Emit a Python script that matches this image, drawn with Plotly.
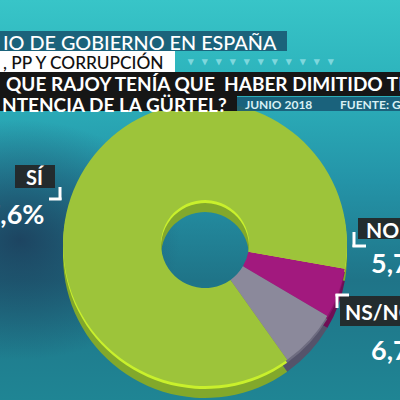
import plotly.graph_objects as go

# ---- data ----
categories = ["NO", "NS/NC", "SÍ"]
values = [5.7, 6.7, 87.6]
value_labels = ["5,7%", "6,7%", "87,6%"]
face_colors = ["#a2197e", "#8b899b", "#9dc43a"]
rim_colors = ["#8a1469", "#6e6c80", "#c9f02c"]
side_colors = ["#6f0f55", "#55536a", "#82a82b"]

title_1 = "IO DE GOBIERNO EN ESPAÑA"
title_2 = ", PP Y CORRUPCIÓN"
question_1 = "QUE RAJOY TENÍA QUE\u00a0 HABER DIMITIDO TRAS"
question_2 = "NTENCIA DE LA GÜRTEL?"
date_txt = "JUNIO 2018"
source_txt = "FUENTE: GAD3"

W = H = 400
FONT = "Lato"


def px(x):
    return x / W


def py(y):
    return 1 - y / H


def dom(cx, cy, r):
    return dict(x=[px(cx - r), px(cx + r)], y=[max(0, py(cy + r)), py(cy - r)])


fig = go.Figure()

# background gradient
fig.add_trace(go.Scatter(
    x=[0, 1, 1, 0, 0], y=[0, 0, 1, 1, 0], mode="lines", line=dict(width=0),
    fill="toself", hoverinfo="skip", showlegend=False,
    fillgradient=dict(type="vertical", colorscale=[
        [0.0, "#1f8594"], [0.3, "#1f7488"], [0.55, "#2494a8"],
        [0.8, "#2db3bc"], [1.0, "#38c5c8"]]),
))
# darker navy patch at left
fig.add_trace(go.Scatter(
    x=[-0.35, 0.45, 0.45, -0.35, -0.35], y=[0.1, 0.1, 0.7, 0.7, 0.1],
    mode="lines", line=dict(width=0), fill="toself", hoverinfo="skip",
    showlegend=False,
    fillgradient=dict(type="radial", colorscale=[
        [0.0, "rgba(28,58,88,0.85)"], [0.6, "rgba(28,58,88,0.35)"],
        [1.0, "rgba(28,58,88,0)"]]),
))

CX, CY, R = 205, 244, 142
HOLE = 0.31
ROT = 100

for dy, cols in [(12, side_colors), (3, rim_colors), (0, face_colors)]:
    fig.add_trace(go.Pie(
        labels=categories, values=values, sort=False, direction="clockwise",
        rotation=ROT, hole=HOLE, textinfo="none", hoverinfo="skip",
        marker=dict(colors=cols, line=dict(width=0)),
        domain=dom(CX, CY + dy, R), showlegend=False,
    ))

shapes = []
anns = []


def box(x0, y0, x1, y1, color):
    shapes.append(dict(type="rect", xref="paper", yref="paper",
                       x0=px(x0), x1=px(x1), y0=py(y1), y1=py(y0),
                       fillcolor=color, line=dict(width=0), layer="above"))


def text(x, y, s, size, color, weight=700, xanchor="left", yanchor="middle"):
    anns.append(dict(xref="paper", yref="paper", x=px(x), y=py(y), text=s,
                     showarrow=False, xanchor=xanchor, yanchor=yanchor,
                     font=dict(family=FONT, size=size, color=color, weight=weight)))


def line(x0, y0, x1, y1):
    shapes.append(dict(type="line", xref="paper", yref="paper",
                       x0=px(x0), x1=px(x1), y0=py(y0), y1=py(y1),
                       line=dict(color="white", width=3), layer="above"))


# title banners
box(0, 31, 287, 51, "rgba(24,84,110,0.85)")
text(1, 41.5, title_1, 19.8, "white", weight=500)
box(0, 51, 175, 72, "white")
text(1, 62, title_2, 17.3, "#111111", weight=500)
box(0, 72, 400, 96, "#161616")
box(0, 96, 237, 111, "#161616")
text(4, 84, question_1, 19, "white")
text(0, 104, question_2, 19, "white")
box(237, 97, 400, 111, "rgba(24,90,118,0.9)")
text(243, 104.5, date_txt, 12, "#d8f0f4")
text(338, 104.5, source_txt, 12, "#d8f0f4")
text(185, 60.5, "▾" + "   ▾" * 10, 11, "rgba(150,225,230,0.8)")

# SÍ label
box(15, 165, 55, 188, "rgba(35,35,35,0.9)")
text(35, 177, categories[2], 20, "white", xanchor="center")
line(60, 187, 60, 200)
line(49, 199, 61.5, 199)
text(46, 213, value_labels[2], 27, "white", xanchor="right")

# NO label
box(358, 218, 400, 239, "rgba(35,35,35,0.9)")
text(364, 229, categories[0], 21, "white")
line(354, 232, 354, 247)
line(352.5, 246, 366, 246)
text(369, 262, value_labels[0], 27, "white")

# NS/NC label
box(340, 296, 400, 326, "rgba(35,35,35,0.9)")
text(343, 311, categories[1], 21, "white")
line(337, 294, 337, 308)
line(335.5, 295, 349, 295)
text(369, 349, value_labels[1], 27, "white")

fig.update_layout(
    width=W, height=H, margin=dict(l=0, r=0, t=0, b=0),
    paper_bgcolor="#2a9fb0", plot_bgcolor="rgba(0,0,0,0)",
    xaxis=dict(range=[0, 1], visible=False, fixedrange=True),
    yaxis=dict(range=[0, 1], visible=False, fixedrange=True),
    shapes=shapes, annotations=anns, showlegend=False,
)

fig.write_html(
    "out.html",
    config=dict(displayModeBar=False, staticPlot=True),
    post_script="document.body.style.margin='0';document.body.style.overflow='hidden';",
)
